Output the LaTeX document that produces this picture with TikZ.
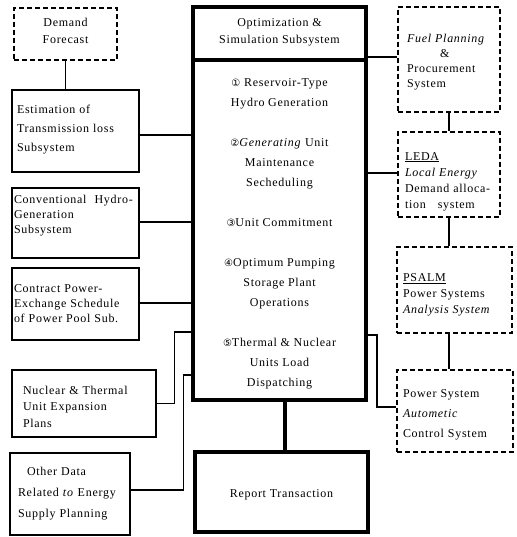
\documentclass[tikz,border=0pt]{standalone}
\usepackage{fontspec}
\setmainfont[LetterSpace=6]{Liberation Serif}
\newfontfamily\circfont{DejaVu Sans}
\newcommand{\circnum}[1]{{\circfont\fontsize{10}{20}\selectfont #1}}
\begin{document}
\begin{tikzpicture}[x=1pt,y=-1pt,
  every node/.style={font=\fontsize{12}{17}\selectfont},
  thinbox/.style={draw, line width=1.2pt, inner ysep=0pt, align=left},
  dashbox/.style={draw, line width=1.5pt, dash pattern=on 5pt off 3pt, inner ysep=0pt, align=left},
  thickbox/.style={draw, line width=4pt, inner sep=0pt, align=center},
  link/.style={line width=1.1pt},
  boldlink/.style={line width=4pt}]
\useasboundingbox (0,0) rectangle (516,537);

% central column
\node[thickbox, minimum width=173pt, minimum height=53pt] (title) at (279.5,33.5)
  {Optimization \&\\ Simulation Subsystem\rule[-5pt]{0pt}{5pt}};
\node[thickbox, minimum width=173pt, minimum height=340pt,
  font=\fontsize{12}{20}\selectfont] (body) at (279.5,230)
  {\rule{0pt}{15pt}\circnum{①} Reservoir-Type\\ Hydro Generation\\[20pt]
   \circnum{②}\textit{Generating} Unit\\ Maintenance\\ Secheduling\\[20pt]
   \circnum{③}Unit Commitment\\[20pt]
   \circnum{④}Optimum Pumping\\ Storage Plant\\ Operations\\[20pt]
   \circnum{⑤}Thermal \& Nuclear\\ Units Load\\ Dispatching};
\node[thickbox, minimum width=173pt, minimum height=80pt] (report) at (281.5,492)
  {\rule{0pt}{14pt}Report Transaction};

% left column
\node[dashbox, align=center, minimum width=103pt, minimum height=52pt] (df) at (65.5,34)
  {Demand\\ Forecast\rule[-6pt]{0pt}{6pt}};
\node[thinbox, inner xsep=5pt, text width=117pt, minimum height=82pt,
  font=\fontsize{12}{19}\selectfont] (est) at (75.5,131)
  {Estimation of\\ Transmission loss\\ Subsystem\rule[-5pt]{0pt}{5pt}};
\node[thinbox, inner xsep=2pt, text width=123pt, minimum height=70pt,
  font=\fontsize{12}{15}\selectfont] (conv) at (75.5,223)
  {Conventional\ \ Hydro-\\ Generation\\ Subsystem\rule[-17pt]{0pt}{17pt}};
\node[thinbox, inner xsep=2pt, text width=123pt, minimum height=72pt,
  font=\fontsize{12}{15}\selectfont] (con) at (75.5,304)
  {Contract Power-\\ Exchange Schedule\\ of Power Pool Sub.};
\node[thinbox, inner xsep=11pt, text width=122pt, minimum height=67pt,
  font=\fontsize{12}{16.5}\selectfont] (nuc) at (84,403.5)
  {\rule{0pt}{15pt}Nuclear \& Thermal\\ Unit Expansion\\ Plans};
\node[thinbox, inner xsep=8pt, text width=104pt, minimum height=82pt,
  font=\fontsize{12}{21}\selectfont] (oth) at (70,494)
  {\hspace*{9pt}Other Data\\ Related \textit{to} Energy\\ Supply Planning};

% right column
\node[dashbox, inner xsep=9pt, text width=84pt, minimum height=105pt,
  font=\fontsize{12}{15}\selectfont] (fuel) at (449,59.5)
  {\rule{0pt}{14pt}\textit{Fuel Planning}\\ \hspace*{33pt}\&\\ Procurement\\ System};
\node[dashbox, inner xsep=7pt, text width=88pt, minimum height=85pt,
  font=\fontsize{12}{16}\selectfont] (leda) at (449,174.5)
  {\rule{0pt}{22pt}\underline{LEDA}\\ \textit{Local Energy}\\ Demand alloca-\\ tion\ \ \ system};
\node[dashbox, inner xsep=6pt, text width=103pt, minimum height=86pt,
  font=\fontsize{12}{16}\selectfont] (psalm) at (454.5,290)
  {\rule{0pt}{17pt}\underline{PSALM}\\ Power Systems\\ \textit{Analysis System}};
\node[dashbox, inner xsep=6pt, text width=104pt, minimum height=82pt,
  font=\fontsize{12}{20}\selectfont] (ps) at (455,411)
  {\rule{0pt}{15pt}Power System\\ \textit{Autometic}\\ Control System};

% connectors left
\draw[link] (df.south) -- (df.south |- est.north);
\draw[link] (est.east |- 0,135) -- (body.west |- 0,135);
\draw[link] (conv.east |- 0,222) -- (body.west |- 0,222);
\draw[link] (con.east |- 0,303) -- (body.west |- 0,303);
\draw[link] (nuc.east) -- ++(18,0) |- (body.west |- 0,332);
\draw[link] (oth.east |- 0,490) -- ++(53,0) |- (body.west |- 0,375);

% connectors right
\draw[link] (title.east |- 0,57) -- (fuel.west |- 0,57);
\draw[link] (fuel.south) -- (leda.north);
\draw[link] (body.east |- 0,173) -- (leda.west |- 0,173);
\draw[link] (leda.south) -- (leda.south |- psalm.north);
\draw[link] (leda.south |- psalm.south) -- (leda.south |- ps.north);
\draw[link] (body.east |- 0,335) -- ++(9,0) |- (ps.west |- 0,407);

% central link
\draw[boldlink] (body.south -| 285,0) -- (report.north -| 285,0);
\end{tikzpicture}
\end{document}
